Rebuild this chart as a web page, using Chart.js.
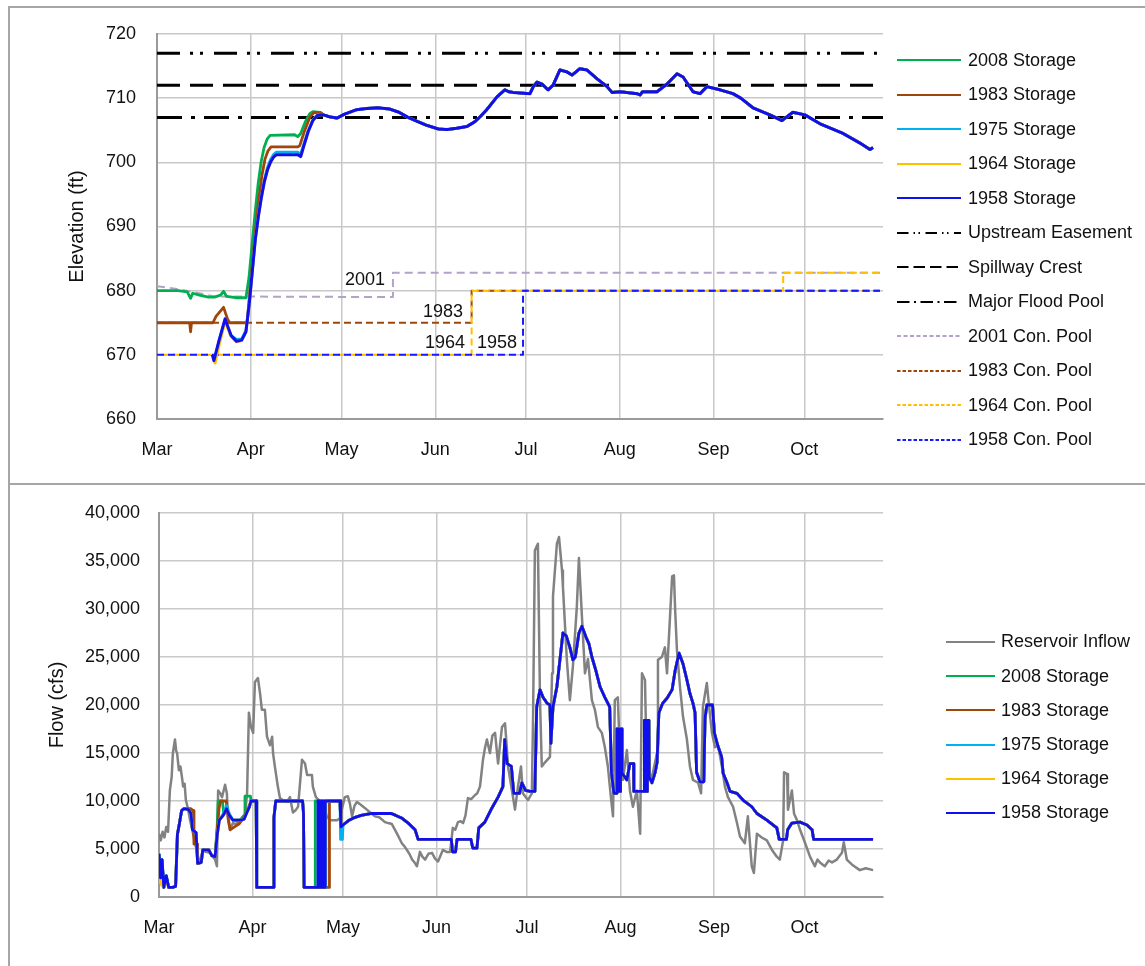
<!DOCTYPE html>
<html>
<head>
<meta charset="utf-8">
<title>Reservoir elevation and flow</title>
<script src="https://cdn.jsdelivr.net/npm/chart.js@4.4.1/dist/chart.umd.min.js"></script>
<style>
  body{margin:0;background:#fff;font-family:"Liberation Sans",Arial,sans-serif;}
  .panel{position:absolute;box-sizing:border-box;border:2px solid #a6a6a6;}
  #topPanel{left:8px;top:6px;width:1150px;height:479px;}
  #botPanel{left:8px;top:485px;width:1150px;height:500px;border-top:none;}
  canvas{position:absolute;}
  #elevChart{left:10px;top:9px;}
  #flowChart{left:10px;top:486px;}
  .legend{position:absolute;font-size:18px;color:#111;}
  .legend .row{display:flex;align-items:center;white-space:nowrap;}
  .legend svg{flex:none;}
  #elevLegend{left:897px;top:42.75px;}
  #elevLegend .row{height:34.5px;}
  #elevLegend span{margin-left:7px;}
  #flowLegend{left:946px;top:624.9px;}
  #flowLegend .row{height:34.2px;}
  #flowLegend span{margin-left:6px;}
</style>
</head>
<body>
<div class="panel" id="topPanel"></div>
<div class="panel" id="botPanel"></div>
<canvas id="elevChart" width="1135" height="474"></canvas>
<canvas id="flowChart" width="1135" height="480"></canvas>
<div class="legend" id="elevLegend"></div>
<div class="legend" id="flowLegend"></div>

<script>
// Eje x: dias desde el 1 de marzo
const monthNames = ['Mar','Apr','May','Jun','Jul','Aug','Sep','Oct'];
const monthStart = [0, 31, 61, 92, 122, 153, 184, 214];

// ---- Elevacion (ft), pares [dia, valor] ----
const upstreamEasement = [[0,717],[240,717]];
const spillwayCrest    = [[0,712],[240,712]];
const majorFloodPool   = [[0,707],[240,707]];

const conPool2001 = [[0,680.7],[6,680.3],[12,679.8],[19,679.1],[78,679],[78,682.8],[239,682.8]];
const conPool1983 = [[0,675],[104,675],[104,680],[239,680]];
const conPool1964 = [[0,670],[104,670],[104,680],[207,680],[207,682.8],[239,682.8]];
const conPool1958 = [[0,670],[121,670],[121,680],[239,680]];

const poolLabels = [
  {text:'2001', day:75.4, elev:681.6, align:'right'},
  {text:'1983', day:101.2, elev:676.7, align:'right'},
  {text:'1964', day:101.8, elev:671.9, align:'right'},
  {text:'1958', day:105.8, elev:671.9, align:'left'}
];

const elev2008 = [[0,680],[7,680],[10,679.8],[11.1,678.8],[11.8,679.6],[14,679.3],[17,679],[19,679],[21,679.3],[22,679.9],[23,679.1],[26,678.9],[29.4,678.9],
  [30.4,682],[31.4,687],[32.4,692],[33.4,696.5],[34.4,700],[35.4,702.3],[36.4,703.6],[37.4,704.2],[45.5,704.3],[46.5,704],[47.5,704.5],[49,706.3],[50.5,707.6],[51.5,707.9],[54,707.8]];
const elev1983 = [[0,675],[10.8,675],[11.1,673.6],[11.4,675],[18.5,675],[19.5,676],[22,677.4],[23.3,675.6],[24,675],[29.8,675],
  [30.7,680],[31.7,685],[32.7,690],[33.7,694.5],[34.7,698],[35.7,700.5],[36.7,701.8],[37.7,702.4],[46.5,702.4],[47.2,702.6],[48.7,704.8],[50.5,707],[52,707.8],[54.2,707.7]];
const elev1975 = [[18.5,670],[19,669.3],[20.5,672.2],[22.5,675.4],[24.5,673],[26.3,672.4],[28,672.5],[29.4,673.8],
  [30.5,678],[31.5,683],[32.5,688],[33.5,691.8],[34.5,694.8],[35.5,697.3],[36.5,699.2],[37.5,700.4],[38.5,701.2],[39.5,701.6],[46.5,701.6],[47.5,701.3],[48.5,702.8],[50,705],[51.5,706.6],[53,707.4],[54.5,707.5]];
const elev1964 = [[18.6,670],[19.2,668.7],[20.8,672],[22.5,675.2],[24.5,672.8],[26.3,672],[28,672.2],[29.4,673.6],
  [30.5,678],[31.5,683],[32.5,688],[33.5,691.5],[34.5,694.5],[35.5,697],[36.5,698.8],[37.5,700],[38.5,700.8],[39.5,701.2],[46.5,701.2],[47.5,700.9],[48.5,702.5],[50,704.8],[51.5,706.5],[53,707.3],[54.5,707.4]];
const elev1958 = [[18.3,670],[18.8,669.1],[20.5,672.2],[22.5,675.6],[24.5,673],[26.3,672.1],[28,672.3],[29.4,673.6],
  [30.5,678],[31.5,683],[32.5,688],[33.5,691.5],[34.5,694.5],[35.5,697],[36.5,698.8],[37.5,700],[38.5,700.8],[39.5,701.2],[46.5,701.2],[47.5,700.9],[48.5,702.5],[50,704.8],[51.5,706.5],[53,707.3],[54.5,707.4]];
// tramo comun a todas las series de almacenamiento
const elevCommon = [[55,707.4],[57,707.1],[59.5,706.9],[62,707.5],[66,708.2],[69.4,708.4],[73,708.5],[77,708.3],[80,707.8],[83,707],[86,706.4],[89,705.8],[91,705.5],[93,705.2],
  [95.9,705.1],[99,705.3],[102.5,705.6],[105,706.3],[106.8,707.1],[109,708.2],[112.4,710.2],[115,711.3],[116.3,711],[117.7,710.9],[123.3,710.7],[124.4,711.8],[125.6,712.5],
  [127.3,712.2],[129.3,711.3],[130.9,712],[133.2,714.4],[135.5,714.1],[137.2,713.6],[139.8,714.6],[142.1,714.4],[145.5,713],[148.8,711.8],[150.4,710.9],[153.1,711],
  [158.7,710.7],[159.7,710.5],[160.5,711],[162,711],[165.3,711],[168.6,712.2],[171.9,713.8],[173.9,713.3],[177.2,711],[179.5,710.7],[181.8,711.8],[186.1,711.3],
  [190.4,710.7],[193,710],[197,708.5],[202.6,707.4],[206.6,706.5],[208.5,707.2],[210.2,707.8],[214.2,707.4],[219.2,706],[226.8,704.5],[232.4,703],[235.7,702],[236.7,702.3]];

// ---- Caudal (cfs), pares [dia, valor] ----
const inflow = [[0,6600],[0.6,5900],[1.2,6800],[1.8,6200],[2.4,7300],[3,6800],[3.6,11100],[4.2,12500],[4.6,15000],[5.3,16400],[5.7,15200],[6,15000],[6.6,13200],[7.1,13600],
  [7.6,12500],[8,11500],[8.5,11800],[8.9,10100],[9.6,9200],[10.3,8000],[11.3,6600],[12,5600],[12.6,4600],[13.6,3500],[14.6,4900],[15.5,4700],[16.9,4600],[17.8,4200],
  [18.6,3900],[19.2,3200],[19.5,9000],[19.6,11100],[20.3,10800],[20.9,10400],[21.9,11700],[22.5,10800],[22.9,8000],[23.5,7000],[24.5,7700],[25.5,7600],[26.8,8000],
  [27.6,8300],[28.5,8500],[29.2,10800],[29.8,19200],[30.5,17700],[31.2,17100],[31.8,22400],[32.8,22800],[33.5,21200],[34.1,19500],[35.1,19500],[35.8,16700],[36.8,15800],
  [37.5,16700],[37.8,15000],[38.4,13600],[39.4,11500],[40.1,10300],[41,10100],[42.4,9900],[43.4,10400],[44.4,8800],[45.2,9000],[46.1,9400],[47.4,14300],[48.4,13900],
  [49.1,12700],[50.7,12700],[51,11500],[52,10400],[53,10100],[54.5,9800],[55.5,8500],[56.7,8000],[59,8000],[60,8200],[60.5,9000],[61.6,10400],[62.6,10500],[63.3,9700],
  [64,8400],[64.8,9500],[65.6,9900],[66.5,9700],[67.3,9500],[68.9,9100],[70,8800],[71.6,8400],[73,8300],[74.9,7800],[76,7700],[77.2,7600],[78.9,6600],[80.5,5600],
  [81.3,5300],[82.2,4900],[83,4500],[83.9,3900],[84.7,3600],[85.5,3200],[86.5,4700],[87.3,4200],[88.2,3900],[89.3,4500],[90.5,4600],[91.5,4000],[92.5,3700],[93.3,4300],
  [94.1,4900],[95.3,4700],[96.5,4700],[97.4,7200],[98.2,7000],[99.1,7800],[100,7900],[100.8,7700],[101.6,8500],[102.4,10300],[103.5,10200],[104.7,10600],[105.5,10800],
  [106.4,11500],[107.4,14300],[108.1,15600],[108.7,16400],[109.7,15000],[110.5,16800],[111.4,17100],[112.4,13900],[113.1,16000],[113.7,17700],[114.7,18100],[115.2,16000],
  [115.7,13600],[117,11100],[118,9100],[119,11500],[120,13600],[120.6,10800],[122.3,10100],[123.6,10800],[124,18800],[124.6,36100],[125.6,36800],[126.3,20500],
  [126.9,13600],[127.9,14000],[129.6,14600],[130.3,23300],[130.6,31300],[131.9,36800],[132.6,37500],[133.6,34000],[133.9,32300],[135.2,24700],[136.2,20500],[137.2,24000],
  [138.5,30200],[139.2,35300],[140.2,29200],[141.2,23300],[142.2,24800],[143.5,20500],[144.5,19500],[145.5,17700],[146.8,17100],[147.8,15600],[148.8,13600],[149.8,10400],
  [150.5,8400],[151.1,20500],[152.1,20800],[152.8,14600],[153.8,12200],[155.1,15300],[156.1,11100],[157.1,9400],[158.4,11100],[159.5,6600],[160.1,23300],[161.1,22600],
  [161.7,13200],[163.4,12500],[165.1,15000],[165.4,24700],[166.7,25000],[167.7,26000],[168.4,23300],[169.4,29200],[170.1,33400],[170.7,33500],[171.1,29900],[171.7,25700],
  [172.7,21900],[173.7,18800],[175,16400],[176,13600],[177,12200],[178.7,11900],[179.7,10800],[180.3,19800],[181.6,22300],[182.3,20000],[183.3,17100],[184.3,15600],
  [185.3,15800],[186.6,13600],[187.6,11500],[188.6,10400],[190.3,9400],[191.6,7700],[192.6,6300],[194.2,5600],[195.2,8400],[196.5,3200],[197.2,2500],[198.2,6600],
  [199.8,6200],[201.5,5900],[203.2,4900],[204.8,4200],[205.8,3900],[206.9,5900],[207.2,13000],[208.2,12800],[208.5,9100],[209.8,11100],[210.5,8700],[211.5,8000],
  [212.5,7000],[214.2,5600],[215.8,4200],[217.4,3200],[218.3,3900],[219.1,3600],[220.7,3200],[222,3800],[223.1,3600],[224.7,3900],[226.4,4600],[227,5700],[228,3900],
  [230,3300],[232.3,2800],[234.3,3000],[236.7,2800]];

const flow2008Early = [[0,4500],[0.5,2000],[1,3900],[1.6,1000],[2.4,2200],[3.2,1000],[4.5,1000],[5.5,1100],[6.1,6500],[6.8,7700],[7.5,9000],[8.3,9200],[9.8,9100],[10.6,8700],
  [11.1,7000],[12.3,6700],[12.8,3500],[14,3600],[14.5,4900],[16.5,4900],[17.5,4300],[18.6,4200],[19.3,7500],[19.6,10000],[21,10000],[21.5,8600],[22.4,9000],[23.3,8500],
  [24.5,8000],[27,8000],[28.2,8500],[28.5,10500],[30.3,10500],[30.5,10000],[32.2,10000],[32.4,1000],[37.8,1000],[38.1,8300],[38.7,10000],[47.6,10000],[47.9,8700],
  [48.1,1000],[51.8,1000],[51.8,10000],[60,10000],[60.3,7300]];
const flow1983Early = [[0,4500],[0.5,2000],[1,3900],[1.6,1000],[2.4,2200],[3.2,1000],[4.5,1000],[5.5,1100],[6.1,6500],[6.8,7700],[7.5,9000],[8.3,9200],[10.5,9200],[11.3,9000],
  [11.6,5500],[12.6,5500],[12.8,3500],[14,3600],[14.5,4900],[16.5,4900],[17.5,4300],[18.6,4200],[19.3,7000],[19.9,9200],[20.4,10000],[22.3,10000],[22.8,8500],[23.6,7000],
  [25,7300],[26.5,7600],[27.5,8000],[28.5,8500],[29.5,9200],[30.5,10000],[32.2,10000],[32.4,1000],[37.8,1000],[38.1,8300],[38.7,10000],[47.6,10000],[47.9,8700],[48.1,1000],
  [56.5,1000],[56.5,10000],[60,10000],[60.3,7300]];
const flow1975Early = [[0,4500],[0.5,2000],[1,3900],[1.6,1000],[2.4,2200],[3.2,1000],[4.5,1000],[5.5,1100],[6.1,6500],[6.8,7700],[7.5,9000],[8.3,9200],[9.8,9100],[10.6,8700],
  [11.1,7000],[12.3,6700],[12.8,3500],[14,3600],[14.5,4900],[16.5,4900],[17.5,4300],[18.6,4200],[19.3,6500],[20,8000],[21.3,8700],[22.4,9500],[23.3,8700],[24.5,8000],
  [27,8000],[28.2,8100],[29,8700],[30,9400],[30.5,10000],[32.2,10000],[32.4,1000],[37.8,1000],[38.1,8300],[38.7,10000],[47.6,10000],[47.9,8700],[48.1,1000],[55.3,1000],
  [55.3,10000],[60,10000],[60.2,6000],[60.8,6000]];
const flow1964Early = [[0,2500],[0.5,1500],[1,1200],[1.6,1000],[2.4,1800],[3.2,1000],[4.5,1000],[5.5,1100],[6.1,6500],[6.8,7700],[7.5,9000],[8.3,9200],[9.8,9100],[10.6,8700],
  [11.1,7000],[12.3,6700],[12.8,3500],[14,3600],[14.5,4900],[16.5,4900],[17.5,4300],[18.6,4200],[19.3,6500],[20,8000],[21.3,8500],[22.4,9200],[23.3,8500],[24.5,8000],
  [27,8000],[28.2,8100],[29,8700],[30,9400],[30.5,10000],[32.2,10000],[32.4,1000],[37.8,1000],[38.1,8300],[38.7,10000],[47.6,10000],[47.9,8700],[48.1,1000],[55,1000],
  [55,10000],[60,10000],[60.3,7300]];
const flow1958Early = [[0,4500],[0.5,2000],[1,3900],[1.6,1000],[2.4,2200],[3.2,1000],[4.5,1000],[5.5,1100],[6.1,6500],[6.8,7700],[7.5,9000],[8.3,9200],[9.8,9100],[10.6,8700],
  [11.1,7000],[12.3,6700],[12.8,3500],[14,3600],[14.5,4900],[16.5,4900],[17.5,4300],[18.6,4200],[19.3,6500],[20,8000],[21.3,8500],[22.4,9200],[23.3,8500],[24.5,8000],
  [27,8000],[28.2,8100],[29,8700],[30,9400],[30.5,10000],[32.2,10000],[32.4,1000],[37.8,1000],[38.1,8300],[38.7,10000],[47.6,10000],[47.9,8700],[48.1,1000],[52.7,1000],
  [52.7,10000],[53.3,10000],[53.3,1000],[53.9,1000],[53.9,10000],[54.5,10000],[54.5,1000],[55.1,1000],[55.1,10000],[60,10000],[60.3,7300]];
// tramo comun de descarga
const flowTail = [[61,7500],[63,8000],[65,8300],[67,8500],[70.5,8700],[77,8700],[78.5,8500],[80.6,8200],[82.6,7700],[84.9,7000],[85.9,6000],[96.9,6000],[97.3,4700],
  [98.3,4700],[98.8,6000],[103.4,6000],[104,5100],[105.4,5100],[106,7200],[108,7800],[110.4,9300],[112.4,10400],[114,11500],[114.6,16400],[115.4,13900],[116.8,13600],
  [117.6,10800],[119.5,10800],[120.3,11900],[121.5,11100],[123,11000],[124.6,11000],[125.2,19800],[126.3,21600],[127.3,20800],[128.6,20200],[129.6,20000],[129.9,16000],
  [130.6,19800],[131.9,21900],[132.9,24700],[133.9,27500],[135,27200],[136.2,26000],[137.2,24700],[138,25000],[139.2,27500],[140.2,28200],[141.5,27100],[142.5,26400],
  [143.5,25000],[144.8,23600],[146.2,21900],[147.8,20800],[149.4,19800],[150,12900],[150.8,10800],[151.8,10800],[151.8,17500],[152.4,17500],[152.4,11000],[153,11000],
  [153,17500],[153.5,17500],[153.5,12900],[155.1,12200],[156.1,13900],[157.3,13900],[157.4,11000],[160.9,11000],[160.9,18400],[161.4,18400],[161.4,11000],[161.9,11000],
  [161.9,18400],[162.4,18400],[162.5,12500],[163.4,11900],[164.4,12900],[165.1,14000],[165.7,19200],[167,20200],[168.4,20700],[170.1,21600],[171.1,23600],[172.4,25400],
  [173.7,24300],[175,22600],[176,21200],[177,20200],[177.7,19200],[178.2,13000],[179.3,12000],[180.6,12000],[181,18600],[181.6,20000],[183.5,20000],[184.1,17100],
  [185.2,15800],[186.5,14600],[187,12900],[188.3,11900],[189.3,11000],[191.6,10800],[193.6,10100],[196.5,9400],[198.2,8700],[201.5,8000],[204.8,7200],[205.6,6000],
  [208,6000],[208.4,7000],[209.8,7700],[212.5,7800],[214.8,7500],[216.5,7000],[217,6000],[236.7,6000]];

// ---- Helpers ----
Chart.defaults.font.family = '"Liberation Sans", Arial, sans-serif';
Chart.defaults.font.size = 18;
Chart.defaults.color = '#111';

const pts = arr => arr.map(([x, y]) => ({x, y}));

function series(label, data, color, width, dash, order, dashOffset){
  return {label, data: pts(data), borderColor: color, backgroundColor: color,
          borderWidth: width, borderDash: dash || [], borderDashOffset: dashOffset || 0, order, fill: false};
}

function monthAxis(height){
  return {
    type: 'linear', min: 0, max: 240,
    afterBuildTicks: s => { s.ticks = monthStart.map(v => ({value: v})); },
    afterFit: s => { s.height = height; },
    ticks: {autoSkip: false, maxRotation: 0, padding: 20, callback: (v, i) => monthNames[i]},
    grid: {color: '#c8c8c8', lineWidth: 1.5, drawTicks: false},
    border: {color: '#9a9a9a', width: 2}
  };
}

// tickLength invisible para separar las etiquetas sin inflar el padding superior
function valueAxis(opts){
  return {
    min: opts.min, max: opts.max,
    afterFit: s => { s.width = opts.width; },
    ticks: {stepSize: opts.step, padding: 3, callback: opts.fmt},
    grid: {color: '#c8c8c8', lineWidth: 1.5, drawTicks: true, tickLength: opts.gap - 3, tickColor: 'rgba(0,0,0,0)'},
    border: {color: '#9a9a9a', width: 2},
    title: {display: true, text: opts.title, color: '#111', font: {size: 20}, padding: {top: opts.titlePad, bottom: 0}}
  };
}

// Etiquetas de los años sobre los pools
const poolLabelPlugin = {
  id: 'poolLabels',
  afterDatasetsDraw(chart){
    const {ctx, scales: {x, y}} = chart;
    ctx.save();
    ctx.font = '18px "Liberation Sans", Arial, sans-serif';
    ctx.fillStyle = '#111';
    ctx.textBaseline = 'middle';
    poolLabels.forEach(l => {
      ctx.textAlign = l.align;
      ctx.fillText(l.text, x.getPixelForValue(l.day), y.getPixelForValue(l.elev));
    });
    ctx.restore();
  }
};

// Leyenda en HTML, a partir de los datasets
function buildLegend(chart, boxId, sampleW){
  const box = document.getElementById(boxId);
  box.innerHTML = '';
  chart.data.datasets.forEach(ds => {
    const dash = ds.borderDash.map(v => v * 0.5).join(' ');
    const w = Math.min(ds.borderWidth, 2);
    const row = document.createElement('div');
    row.className = 'row';
    row.innerHTML = `<svg width="${sampleW}" height="8"><line x1="0" y1="4" x2="${sampleW}" y2="4" stroke="${ds.borderColor}" stroke-width="${w}"${dash ? ` stroke-dasharray="${dash}"` : ''}/></svg><span>${ds.label}</span>`;
    box.appendChild(row);
  });
}

const common = {
  responsive: false,
  animation: false,
  events: [],
  elements: {point: {radius: 0}, line: {tension: 0, borderJoinStyle: 'round'}},
  plugins: {legend: {display: false}, tooltip: {enabled: false}}
};

// ---- Grafico de elevacion ----
const elevChart = new Chart(document.getElementById('elevChart'), {
  type: 'line',
  data: {datasets: [
    series('2008 Storage', elev2008.concat(elevCommon), '#00b050', 2.8, null, 4),
    series('1983 Storage', elev1983.concat(elevCommon), '#a0460a', 2.8, null, 3),
    series('1975 Storage', elev1975.concat(elevCommon), '#00b0f0', 2.8, null, 2),
    series('1964 Storage', elev1964.concat(elevCommon), '#ffc000', 2.8, null, 1),
    series('1958 Storage', elev1958.concat(elevCommon), '#1010ee', 3, null, 0),
    series('Upstream Easement', upstreamEasement, '#000', 3, [23,10,3,7,3,11], 7),
    series('Spillway Crest', spillwayCrest, '#000', 3, [23,10], 6),
    series('Major Flood Pool', majorFloodPool, '#000', 3, [25,9,4,9], 5),
    series('2001 Con. Pool', conPool2001, '#b3a2c7', 2, [8,5], 11),
    series('1983 Con. Pool', conPool1983, '#a0460a', 2, [7,4], 10),
    series('1964 Con. Pool', conPool1964, '#ffc000', 2, [7,4], 9, 6),
    series('1958 Con. Pool', conPool1958, '#1a1aff', 2, [7,4], 8)
  ]},
  options: Object.assign({}, common, {
    layout: {padding: {left: 0, top: 25, right: 262, bottom: 0}},
    scales: {
      x: monthAxis(64),
      y: valueAxis({min: 660, max: 720, step: 10, width: 147, gap: 21, title: 'Elevation (ft)', titlePad: 55})
    }
  }),
  plugins: [poolLabelPlugin]
});

// ---- Grafico de caudal ----
const flowChart = new Chart(document.getElementById('flowChart'), {
  type: 'line',
  data: {datasets: [
    series('Reservoir Inflow', inflow, '#828282', 2.5, null, 5),
    series('2008 Storage', flow2008Early.concat(flowTail), '#00b050', 2.8, null, 4),
    series('1983 Storage', flow1983Early.concat(flowTail), '#a0460a', 2.8, null, 3),
    series('1975 Storage', flow1975Early.concat(flowTail), '#00b0f0', 2.8, null, 2),
    series('1964 Storage', flow1964Early.concat(flowTail), '#ffc000', 2.8, null, 1),
    series('1958 Storage', flow1958Early.concat(flowTail), '#1010ee', 2.8, null, 0)
  ]},
  options: Object.assign({}, common, {
    layout: {padding: {left: 0, top: 27, right: 262, bottom: 0}},
    scales: {
      x: monthAxis(69),
      y: valueAxis({min: 0, max: 40000, step: 5000, width: 149, gap: 19, title: 'Flow (cfs)', titlePad: 35,
                    fmt: v => v.toLocaleString('en-US')})
    }
  })
});

buildLegend(elevChart, 'elevLegend', 64);
buildLegend(flowChart, 'flowLegend', 49);
</script>
</body>
</html>
